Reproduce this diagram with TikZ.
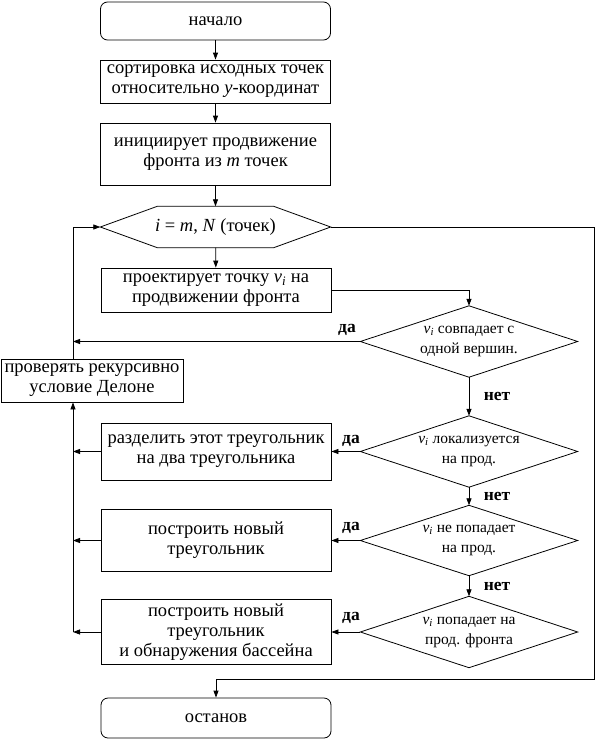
\documentclass[tikz,border=0pt]{standalone}
\usepackage{fontspec}
\setmainfont{Liberation Serif}
\usetikzlibrary{arrows.meta}
\newcommand{\myvi}{\textit{v}\textsubscript{\textit{i}}}
\begin{document}
\begin{tikzpicture}[x=1pt,y=-1pt,
  box/.style={draw, line width=0.8pt, minimum width=230pt, inner sep=0pt, align=center, font=\fontsize{18.5}{20}\selectfont},
  term/.style={box, rounded corners=7pt},
  shapen/.style={inner sep=0pt, align=center},
  dtxt/.style={shapen, font=\fontsize{15.5}{20}\selectfont},
  ln/.style={line width=0.8pt},
  arr/.style={ln, -{Triangle[length=7pt,width=5pt]}},
  lbl/.style={inner sep=0pt, font=\bfseries\fontsize{17.5}{19}\selectfont}]
\useasboundingbox (0,0) rectangle (596,739);
\fill[white] (0,0) rectangle (596,739);

\node[term, minimum height=38pt] (start) at (215.5,21) {начало};
\node[box, minimum height=43pt] (sort) at (215.5,81.5) {сортировка исходных точек\\относительно \textit{y}-координат};
\node[box, minimum height=62pt] (init) at (215.5,154) {инициирует продвижение\\фронта из \textit{m} точек};
\node[shapen, minimum width=230pt, minimum height=41pt, font=\fontsize{18.5}{20}\selectfont] (hex) at (215.5,227) {\textit{i} = \textit{m}, \textit{N} (точек)};
\draw[ln] (hex.west) -- ([xshift=57pt]hex.north west) -- ([xshift=-57pt]hex.north east) -- (hex.east) -- ([xshift=-57pt]hex.south east) -- ([xshift=57pt]hex.south west) -- cycle;
\node[box, minimum height=44pt] (proj) at (216,290) {проектирует точку \myvi{} на\\продвижении фронта};
\node[box, minimum width=182pt, minimum height=43pt] (delone) at (92,380.5) {проверять рекурсивно\\условие Делоне};

\node[dtxt, minimum width=217pt, minimum height=71pt] (d1) at (469,341.5) {\myvi{} совпадает с\\одной вершин.};
\node[dtxt, minimum width=217pt, minimum height=71pt] (d2) at (469,451.5) {\myvi{} локализуется\\на прод.};
\node[dtxt, minimum width=217pt, minimum height=70pt] (d3) at (469,540.5) {\myvi{} не попадает\\на прод.};
\node[dtxt, minimum width=217pt, minimum height=71pt] (d4) at (469,632) {\myvi{} попадает на\\прод. фронта};
\foreach \d in {d1,d2,d3,d4}
  \draw[ln] (\d.west) -- (\d.north) -- (\d.east) -- (\d.south) -- cycle;

\node[box, minimum height=57pt] (b2) at (216,451.5) {разделить этот треугольник\\на два треугольника};
\node[box, minimum height=62pt] (b3) at (216,540.5) {построить новый\\треугольник};
\node[box, minimum height=65pt] (b4) at (216,632) {построить новый\\треугольник\\и обнаружения бассейна};
\node[term, minimum height=40pt] (stop) at (216,718) {останов};

\coordinate (lx) at (73,0);
\coordinate (rb) at (594,679);

\draw[arr] (start) -- (sort);
\draw[arr] (sort) -- (init);
\draw[arr] (init) -- (hex);
\draw[arr] (hex) -- (proj);
\draw[arr] (proj.east) -| (d1.north);
\draw[arr] (d1.west) -- (d1.west -| lx);
\draw[arr] (lx |- delone.north) |- (hex.west);
\draw[arr] (lx |- b4.west) -- (lx |- delone.south);
\draw[arr] (d1) -- (d2);
\draw[arr] (d2) -- (d3);
\draw[arr] (d3) -- (d4);
\draw[arr] (d2.west) -- (b2.east);
\draw[arr] (d3.west) -- (b3.east);
\draw[arr] (d4.west) -- (b4.east);
\draw[arr] (b2.west) -- (b2.west -| lx);
\draw[arr] (b3.west) -- (b3.west -| lx);
\draw[arr] (b4.west) -- (b4.west -| lx);
\draw[arr] (hex.east) -| (rb) -| (stop.north);

\node[lbl] (y1) at (347,330) {да};
\node[lbl] (y2) at (351,441) {да};
\node[lbl] (y3) at (351,528) {да};
\node[lbl] (y4) at (351,618) {да};
\node[lbl] (n1) at (497,396) {нет};
\node[lbl] (n2) at (497,496) {нет};
\node[lbl] (n3) at (497,586) {нет};
\end{tikzpicture}
\end{document}
